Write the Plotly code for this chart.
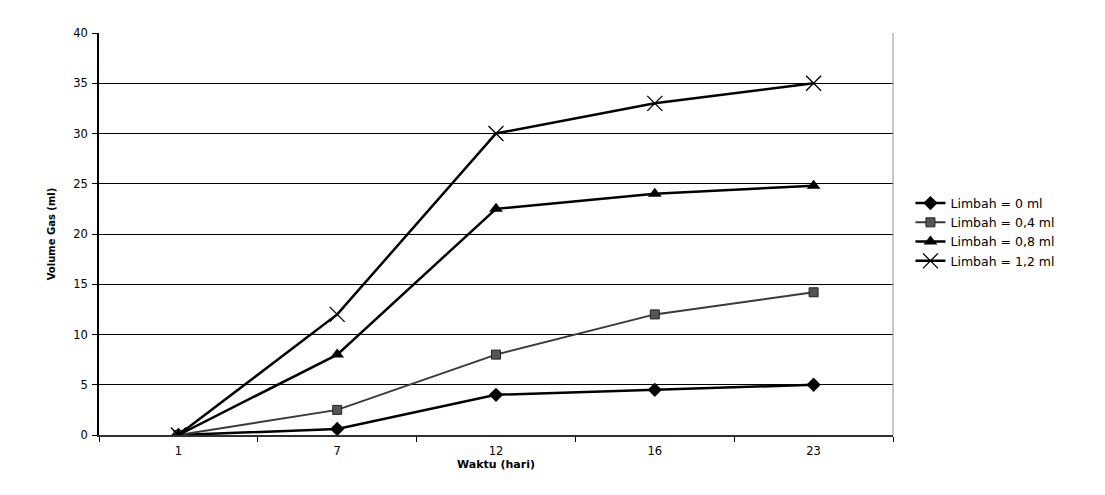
import plotly.graph_objects as go

categories = ["1", "7", "12", "16", "23"]
series_names = ["Limbah = 0 ml", "Limbah = 0,4 ml", "Limbah = 0,8 ml", "Limbah = 1,2 ml"]
limbah_0 = [0, 0.6, 4, 4.5, 5]
limbah_04 = [0, 2.5, 8, 12, 14.2]
limbah_08 = [0, 8, 22.5, 24, 24.8]
limbah_12 = [0, 12, 30, 33, 35]
y_ticks = [0, 5, 10, 15, 20, 25, 30, 35, 40]

styles = [
    dict(line=dict(color="black", width=2.5), marker=dict(symbol="diamond", size=11, color="black")),
    dict(line=dict(color="#3a3a3a", width=2), marker=dict(symbol="square", size=9, color="#555555", line=dict(color="#222222", width=1))),
    dict(line=dict(color="black", width=2.5), marker=dict(symbol="triangle-up", size=12, color="black")),
    dict(line=dict(color="black", width=2.5), marker=dict(symbol="x-thin", size=15, line=dict(color="black", width=1.3))),
]

fig = go.Figure()
for name, vals, st in zip(series_names, [limbah_0, limbah_04, limbah_08, limbah_12], styles):
    fig.add_trace(go.Scatter(x=categories, y=vals, name=name, mode="lines+markers", **st))

fig.update_layout(
    width=1105, height=495,
    margin=dict(l=99, r=212, t=33, b=60),
    paper_bgcolor="white", plot_bgcolor="white",
    font=dict(family="DejaVu Sans", color="black", size=11),
    legend=dict(x=1.022, y=0.505, xanchor="left", yanchor="middle",
                font=dict(size=12.5, family="DejaVu Sans"), bgcolor="rgba(0,0,0,0)", tracegroupgap=0,
                itemwidth=30),
    showlegend=True,
    shapes=[dict(type="line", xref="paper", yref="paper", x0=1, x1=1, y0=0, y1=1,
                 line=dict(color="#909090", width=1))],
)
fig.update_xaxes(
    type="category", range=[-0.5, 4.5], tickson="boundaries", ticks="outside", ticklen=5,
    tickcolor="black", showline=True, linecolor="#303030", linewidth=2,
    showgrid=False, tickfont=dict(size=11.5), ticklabelstandoff=4,
    title=dict(text="<b>Waktu (hari)</b>", font=dict(size=11), standoff=3),
)
fig.update_yaxes(
    range=[0, 40], tickvals=y_ticks, ticks="outside", ticklen=5, tickcolor="black",
    showline=True, linecolor="black", linewidth=1.5, showgrid=True, gridcolor="black", gridwidth=1,
    zeroline=False, tickfont=dict(size=11.5), ticklabelstandoff=2,
    title=dict(text="<b>Volume Gas (ml)</b>", font=dict(size=10), standoff=16),
)
fig.write_html("out.html")
